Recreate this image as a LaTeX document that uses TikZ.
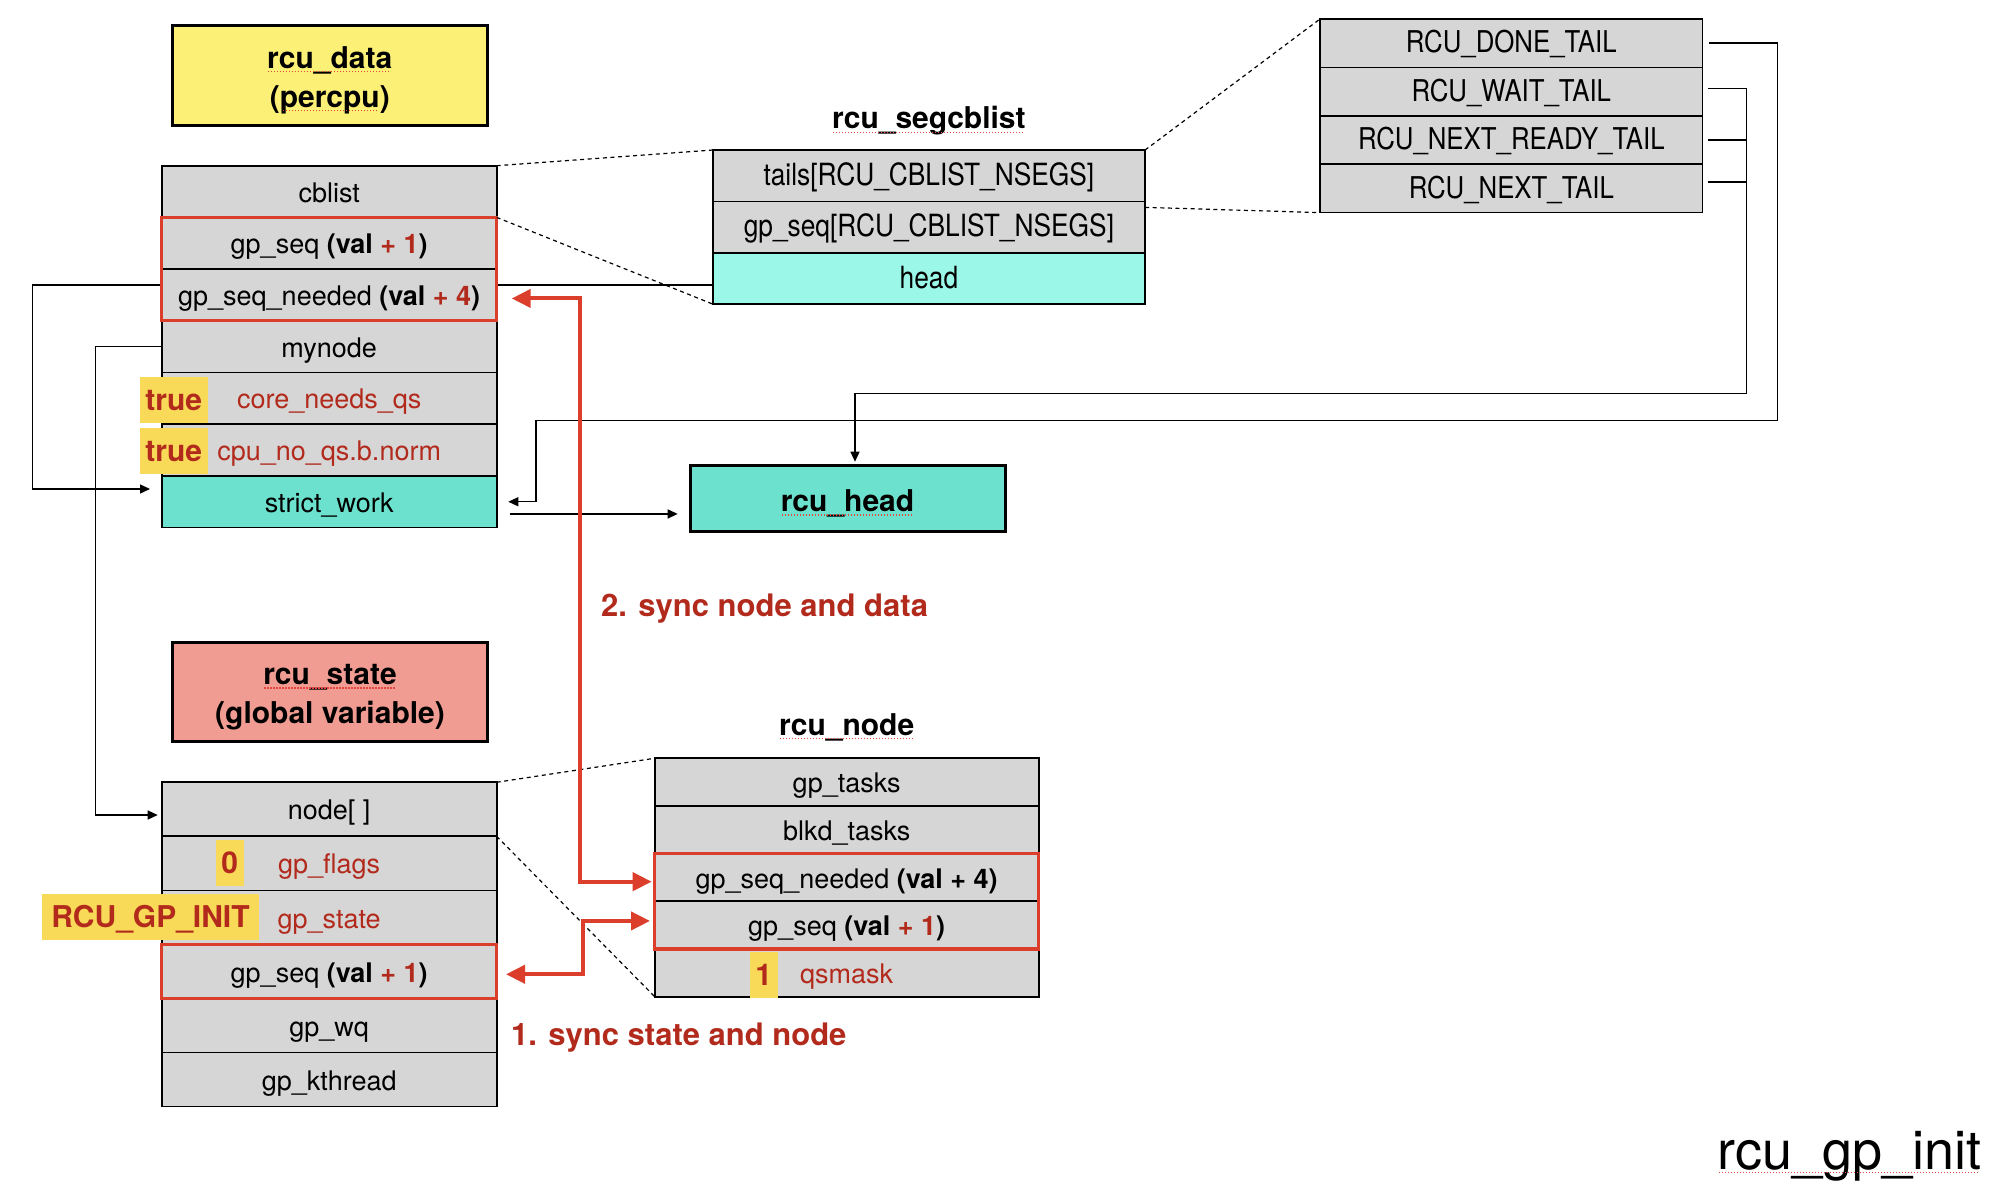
\documentclass[tikz,border=0pt]{standalone}
\usepackage{fontspec}
\setmainfont{TeX Gyre Heros}
\newfontfamily\narrowfont[FakeStretch=0.86]{TeX Gyre Heros}
\usetikzlibrary{arrows.meta,positioning,backgrounds}
\definecolor{txtred}{RGB}{178,42,28}
\definecolor{boxred}{RGB}{219,62,42}
\definecolor{hlyellow}{RGB}{248,217,88}
\definecolor{datayellow}{RGB}{252,241,118}
\definecolor{statesalmon}{RGB}{241,156,146}
\definecolor{rowgray}{RGB}{214,214,214}
\definecolor{workteal}{RGB}{108,226,206}
\definecolor{headteal}{RGB}{155,248,232}
\definecolor{spellred}{RGB}{232,70,60}
% dotted spell-check mark under a word
\newsavebox\spellbox
\newcommand{\spellmark}[1]{\sbox\spellbox{#1}\rlap{\usebox\spellbox}{\color{spellred}\leaders\hbox to 1.5pt{\hss\rule[-2pt]{0.7pt}{0.7pt}\hss}\hskip\wd\spellbox}}
% taller first line, pushes title text down a bit
\newcommand{\titlestrut}{\rule{0pt}{15.6pt}}

\begin{document}
\begin{tikzpicture}[x=0.5pt,y=-0.5pt,
    field/.style={draw, line width=0.85pt, fill=rowgray, inner sep=0pt, outer sep=0pt, text height=12pt, text depth=1.4pt, font=\fontsize{13.5pt}{16pt}\selectfont},
    datarow/.style={field, minimum width=167.5pt, minimum height=25.85pt},
    staterow/.style={field, minimum width=167.5pt, minimum height=27.03pt},
    noderow/.style={field, minimum width=192pt, minimum height=23.84pt},
    segrow/.style={field, minimum width=216.2pt, minimum height=25.67pt, text height=11.2pt, text depth=1.5pt, font=\narrowfont\fontsize{15.3pt}{17pt}\selectfont},
    tailrow/.style={field, minimum width=191.3pt, minimum height=24.2pt, text height=11.2pt, text depth=1.5pt, font=\narrowfont\fontsize{15pt}{17pt}\selectfont},
    titlebox/.style={draw, line width=1.5pt, minimum width=157.5pt, align=center, font=\bfseries\fontsize{15pt}{19.5pt}\selectfont},
    structname/.style={inner sep=0pt, font=\bfseries\fontsize{15pt}{18pt}\selectfont},
    valtag/.style={fill=hlyellow, text=txtred, inner sep=0pt, minimum height=23pt, text height=11pt, text depth=0.5pt, font=\bfseries\fontsize{15pt}{18pt}\selectfont},
    redframe/.style={draw=boxred, line width=1.6pt},
    steplabel/.style={inner sep=0pt, text=txtred, font=\bfseries\fontsize{15.5pt}{18pt}\selectfont},
    wire/.style={line width=0.7pt},
    link/.style={wire, -{Triangle[length=5pt,width=4.5pt]}},
    syncarrow/.style={draw=boxred, line width=2pt, {Triangle[length=9.5pt,width=9pt]}-{Triangle[length=9.5pt,width=9pt]}},
    zoomline/.style={line width=0.6pt, dash pattern=on 2pt off 1.8pt}]
    \useasboundingbox (0,0) rectangle (1998,1188);
    % Title boxes
    \node[titlebox, fill=datayellow, minimum height=50pt] (datatitle) at (329.8,75.5) {\titlestrut\spellmark{rcu\_data}\\(\spellmark{percpu})};
    \node[titlebox, fill=statesalmon, minimum height=49.5pt] (statetitle) at (330,691.7) {\titlestrut\spellmark{rcu\_state}\\(global variable)};
    \node[titlebox, fill=workteal, minimum height=33pt] (headbox) at (847.5,498.8) {\titlestrut\spellmark{rcu\_head}};
    % rcu_data fields
    \node[datarow] (datacb) at (329.2,191.55) {cblist};
    \node[datarow, below=0pt of datacb] (dataseq) {gp\_seq \textbf{(val \textcolor{txtred}{+ 1})}};
    \node[datarow, below=0pt of dataseq] (dataneed) {gp\_seq\_needed \textbf{(val \textcolor{txtred}{+ 4})}};
    \node[datarow, below=0pt of dataneed] (datanode) {mynode};
    \node[datarow, below=0pt of datanode] (dataqs) {\textcolor{txtred}{core\_needs\_qs}};
    \node[datarow, below=0pt of dataqs] (datanoqs) {\textcolor{txtred}{cpu\_no\_qs.b.norm}};
    \node[datarow, fill=workteal, below=0pt of datanoqs] (datawork) {strict\_work};
    % rcu_state fields
    \node[staterow] (statenode) at (329.2,809.3) {node[ ]};
    \node[staterow, below=0pt of statenode] (stateflags) {\textcolor{txtred}{gp\_flags}};
    \node[staterow, below=0pt of stateflags] (statestate) {\textcolor{txtred}{gp\_state}};
    \node[staterow, below=0pt of statestate] (stateseq) {gp\_seq \textbf{(val \textcolor{txtred}{+ 1})}};
    \node[staterow, below=0pt of stateseq] (statewq) {gp\_wq};
    \node[staterow, below=0pt of statewq] (statekt) {gp\_kthread};
    % rcu_node fields
    \node[structname, anchor=base] (rnodename) at (846.7,735) {\spellmark{rcu\_node}};
    \node[noderow] (rnodetasks) at (846.7,782.1) {gp\_tasks};
    \node[noderow, below=0pt of rnodetasks] (rnodeblkd) {blkd\_tasks};
    \node[noderow, below=0pt of rnodeblkd] (rnodeneed) {gp\_seq\_needed \textbf{(val + 4)}};
    \node[noderow, below=0pt of rnodeneed] (rnodeseq) {gp\_seq \textbf{(val \textcolor{txtred}{+ 1})}};
    \node[noderow, below=0pt of rnodeseq] (rnodemask) {\textcolor{txtred}{qsmask}};
    % rcu_segcblist fields
    \node[structname, anchor=base] (segname) at (928.9,129) {\spellmark{rcu\_segcblist}};
    \node[segrow] (segtails) at (928.9,175.7) {tails[RCU\_CBLIST\_NSEGS]};
    \node[segrow, below=0pt of segtails] (segseq) {gp\_seq[RCU\_CBLIST\_NSEGS]};
    \node[segrow, fill=headteal, below=0pt of segseq] (seghead) {head};
    % tails array
    \node[tailrow] (taildone) at (1511.3,43.2) {RCU\_DONE\_TAIL};
    \node[tailrow, below=0pt of taildone] (tailwait) {RCU\_WAIT\_TAIL};
    \node[tailrow, below=0pt of tailwait] (tailready) {RCU\_NEXT\_READY\_TAIL};
    \node[tailrow, below=0pt of tailready] (tailnext) {RCU\_NEXT\_TAIL};
    % fields updated by rcu_gp_init
    \draw[redframe] (dataseq.north west) rectangle (dataneed.south east);
    \draw[redframe] (stateseq.north west) rectangle (stateseq.south east);
    \draw[redframe] (rnodeneed.north west) rectangle (rnodeseq.south east);
    % values
    \node[valtag, minimum width=33.8pt] (truecore) at (173.8,400.3) {true};
    \node[valtag, minimum width=33.8pt] (truenoqs) at (173.8,451) {true};
    \node[valtag, minimum width=13.8pt] (flagsval) at (229.8,862.5) {0};
    \node[valtag, minimum width=108.5pt] (stateval) at (150.5,916.7) {RCU\_GP\_INIT};
    \node[valtag, minimum width=13.8pt] (maskval) at (763.8,975) {1};
    % zoom-in lines
    \draw[zoomline] (datacb.north east) -- (segtails.north west);
    \draw[zoomline] (datacb.south east) -- (seghead.south west);
    \draw[zoomline] (segtails.north east) -- (taildone.north west);
    \draw[zoomline] ([yshift=-3pt]segtails.south east) -- (tailnext.south west);
    \draw[zoomline] (statenode.north east) -- (rnodetasks.north west);
    \draw[zoomline] (statenode.south east) -- (rnodemask.south west);
    % pointers
    \coordinate (workin) at (150,489);
    \coordinate (nodein) at (157.7,815);
    \begin{scope}[on background layer]
      \draw[link] ([yshift=-3.3pt]seghead.west) -- ++(-340pt,0) |- (workin);
    \end{scope}
    \draw[link] (datanode.west) -- ++(-33pt,0) |- (nodein);
    \draw[link] ([xshift=3.3pt]taildone.east) -| (1777.3,420.7) -- (536,420.7) |- ([xshift=5.8pt]datawork.east);
    \draw[link] ([xshift=2.7pt,yshift=1.6pt]tailwait.east) -| (1746.7,393.3) -| ([xshift=3.75pt,yshift=1.3pt]headbox.north);
    \draw[wire] ([xshift=2.7pt]tailready.east) -- +(19.35pt,0);
    \draw[wire] ([xshift=2.7pt,yshift=3.2pt]tailnext.east) -- +(19.35pt,0);
    \draw[link] ([xshift=6.5pt,yshift=-6.1pt]datawork.east) -- ++(84pt,0);
    % sync steps
    \draw[syncarrow] ([xshift=7.5pt,yshift=-1.75pt]dataneed.east) -| (580,600) |- ([xshift=-1.5pt,yshift=-2.1pt]rnodeneed.west);
    \draw[syncarrow] ([xshift=4.65pt,yshift=-1.4pt]stateseq.east) -| (583.3,950) |- ([xshift=-2.35pt,yshift=2.1pt]rnodeseq.west);
    \node[steplabel, anchor=base west] (syncdata) at (600.7,616.7) {2. sync node and data};
    \node[steplabel, anchor=base west] (syncstate) at (510.7,1045) {1. sync state and node};
    % function name
    \node[anchor=base east, inner sep=0pt, font=\fontsize{27pt}{30pt}\selectfont] (funcname) at (1982,1169) {\spellmark{rcu\_gp\_init}};
\end{tikzpicture}
\end{document}
